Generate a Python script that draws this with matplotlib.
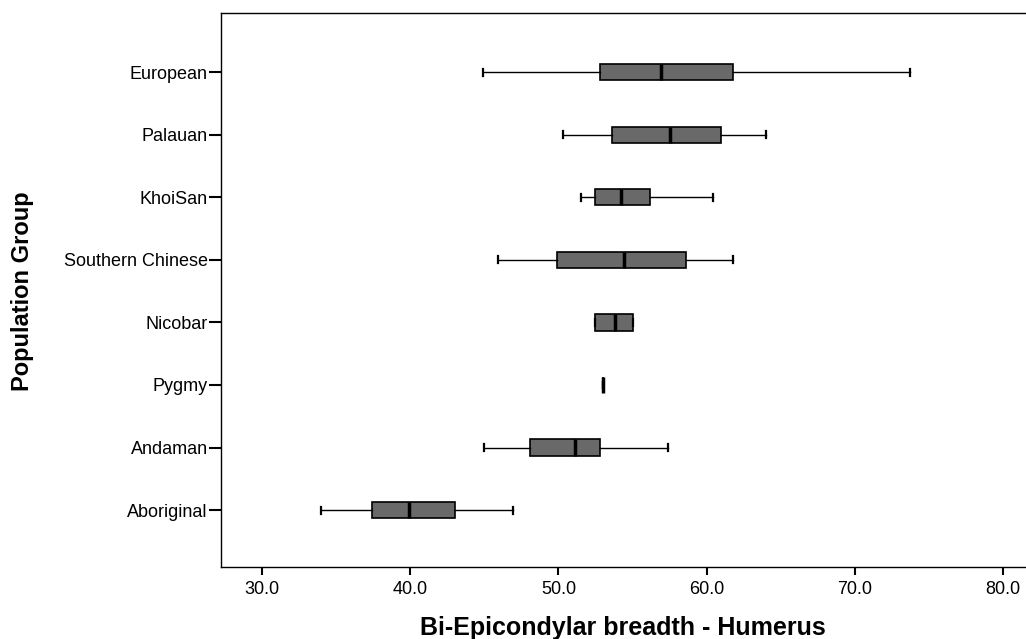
import matplotlib
matplotlib.use("Agg")
import matplotlib.pyplot as plt

categories = ["Aboriginal", "Andaman", "Pygmy", "Nicobar",
              "Southern Chinese", "KhoiSan", "Palauan", "European"]
whisker_low = [34.0, 45.0, 53.0, 52.5, 45.9, 51.5, 50.3, 44.9]
q1 =          [37.4, 48.1, 53.0, 52.5, 49.9, 52.5, 53.6, 52.8]
median =      [39.9, 51.1, 53.0, 53.8, 54.4, 54.2, 57.5, 56.9]
q3 =          [43.0, 52.8, 53.0, 55.0, 58.6, 56.2, 61.0, 61.8]
whisker_high = [46.9, 57.4, 53.0, 55.0, 61.8, 60.4, 64.0, 73.7]
xticks = [30.0, 40.0, 50.0, 60.0, 70.0, 80.0]

plt.rcParams['font.family'] = ['Liberation Sans', 'DejaVu Sans']

fig = plt.figure(figsize=(10.26, 6.39), dpi=100)
ax = fig.add_axes([221/1026, 1 - 567/639, (1026 - 221)/1026, (567 - 12.7)/639])

stats = []
for i, c in enumerate(categories):
    stats.append(dict(label=c, whislo=whisker_low[i], q1=q1[i], med=median[i],
                      q3=q3[i], whishi=whisker_high[i], fliers=[]))

positions = list(range(len(categories)))
ax.bxp(stats, positions=positions, vert=False, widths=0.26, capwidths=0.11,
       patch_artist=True, showfliers=False,
       boxprops=dict(facecolor='#696969', edgecolor='black', linewidth=1.2),
       medianprops=dict(color='black', linewidth=2.5, solid_capstyle='butt'),
       whiskerprops=dict(color='black', linewidth=1.0),
       capprops=dict(color='black', linewidth=1.6))

ax.set_xlim(27.23, 81.55)
ax.set_ylim(-0.91, 7.95)
ax.set_xticks(xticks)
ax.set_xticklabels([f"{v:.1f}" for v in xticks], fontsize=13)
ax.set_yticks(positions)
ax.set_yticklabels(categories, fontsize=13)
ax.tick_params(axis='y', direction='out', length=8.5, width=1.5, pad=1)
ax.tick_params(axis='x', direction='out', length=6, width=1.5, pad=4)
for s in ax.spines.values():
    s.set_linewidth(1.0)
ax.spines['right'].set_visible(False)

fig.text(623/1026, 1 - 628/639, "Bi-Epicondylar breadth - Humerus",
         fontsize=18, fontweight='bold', ha='center', va='center')
fig.text(23/1026, 1 - 291/639, "Population Group", fontsize=17,
         fontweight='bold', ha='center', va='center', rotation=90)

fig.savefig("out.png", dpi=100)
